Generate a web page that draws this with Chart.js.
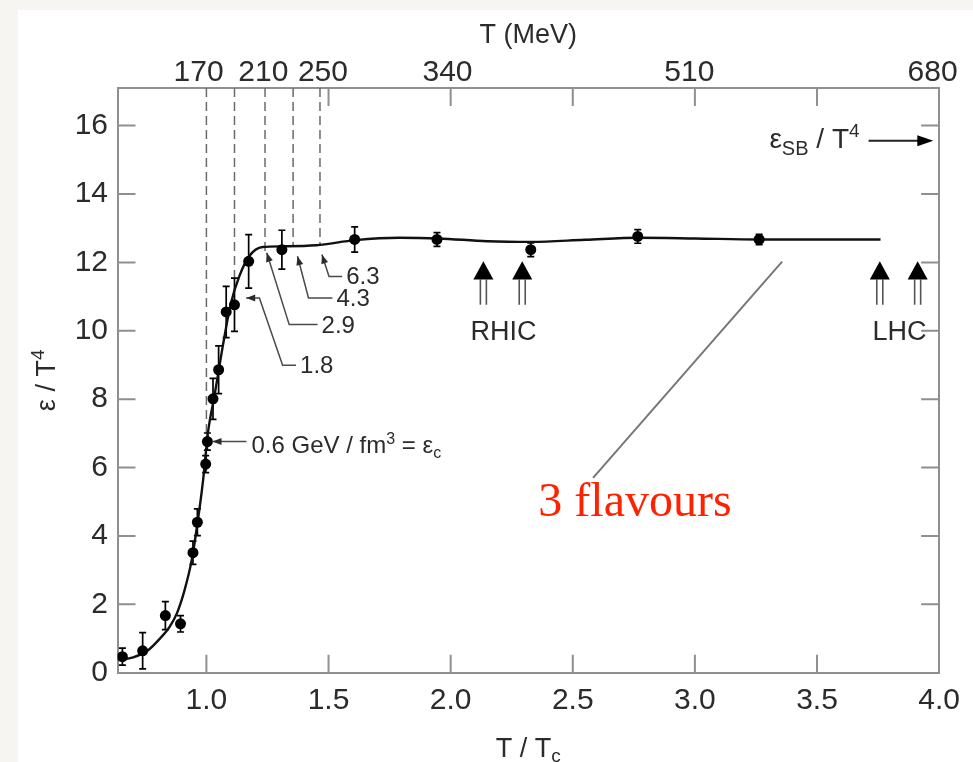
<!DOCTYPE html>
<html>
<head>
<meta charset="utf-8">
<script src="https://cdn.jsdelivr.net/npm/chart.js@4.4.0/dist/chart.umd.min.js"></script>
<style>
  html, body { margin: 0; padding: 0; background: #f6f5f2; }
  canvas { display: block; }
</style>
</head>
<body>
<canvas id="chart" width="973" height="762"></canvas>
<script>
// lattice points: T/Tc, eps/T^4 and the error half-length
var tTc    = [0.656, 0.739, 0.832, 0.894, 0.945, 0.963, 0.997, 1.004, 1.027, 1.050, 1.081, 1.115, 1.173, 1.309, 1.607, 1.944, 2.328, 2.766, 3.263];
var epsT4  = [0.47, 0.64, 1.67, 1.43, 3.51, 4.40, 6.10, 6.76, 8.01, 8.86, 10.55, 10.76, 12.03, 12.37, 12.67, 12.67, 12.37, 12.76, 12.67];
var epsErr = [0.25, 0.53, 0.41, 0.24, 0.34, 0.39, 0.25, 0.25, 0.60, 0.70, 0.75, 0.78, 0.78, 0.57, 0.37, 0.20, 0.20, 0.20, 0.15];

// the fitted curve
var curveX = [0.64, 0.70, 0.76, 0.81, 0.85, 0.88, 0.91, 0.94, 0.965, 0.986, 1.006, 1.033, 1.067, 1.10, 1.135, 1.175, 1.23, 1.31, 1.45, 1.61, 1.79, 1.95, 2.15, 2.33, 2.55, 2.77, 3.0, 3.26, 3.5, 3.76];
var curveY = [0.37, 0.45, 0.65, 1.0, 1.35, 1.75, 2.4, 3.3, 4.45, 5.6, 7.0, 8.1, 9.55, 10.8, 11.6, 12.18, 12.45, 12.47, 12.5, 12.65, 12.72, 12.7, 12.62, 12.6, 12.66, 12.72, 12.7, 12.67, 12.67, 12.67];

// axes
var xMin = 0.636, xMax = 4.0;
var yMin = 0, yMax = 17.1;
var xTicks = [1.0, 1.5, 2.0, 2.5, 3.0, 3.5, 4.0];
var yTicks = [0, 2, 4, 6, 8, 10, 12, 14, 16];
var topLabels = ['170', '210', '250', '340', '510', '680'];
var topLabelAt = [0.968, 1.233, 1.477, 1.987, 2.977, 3.973];
var topTickMarks = [1.5, 2.0, 2.5, 3.0, 3.5];

// dashed lines (energy density marks) and their labels
var dashX = [1.0, 1.115, 1.24, 1.355, 1.465];
var dashBottom = [5.9, 11.5, 12.3, 12.45, 12.5];
var notes = [
  { text: '6.3', pts: [[1.473, 12.23], [1.502, 11.59], [1.556, 11.59]] },
  { text: '4.3', pts: [[1.373, 12.18], [1.418, 10.96], [1.516, 10.96]] },
  { text: '2.9', pts: [[1.247, 12.28], [1.339, 10.18], [1.455, 10.18]] },
  { text: '1.8', pts: [[1.163, 10.96], [1.217, 10.96], [1.312, 8.99], [1.367, 8.99]] }
];
var ecNote = { pts: [[1.025, 6.76], [1.164, 6.76]] };

var rhicX = [2.134, 2.293];
var lhcX = [3.757, 3.912];
var beamTip = 12.03, beamHead = 11.5, beamEnd = 10.76, beamLabelY = 9.74;
var rhicLabelX = 2.216, lhcLabelX = 3.838;

var sbY = 15.56, sbFrom = 3.711, sbTo = 3.976;

var sans = '"Liberation Sans", Arial, Helvetica, sans-serif';
var serif = '"Liberation Serif", "Times New Roman", serif';
var textColor = '#2b2b2b';
var axisColor = '#8f8f8f';

function richText(ctx, parts, x, y, align) {
    var w = 0;
    parts.forEach(function(p) {
        ctx.font = p.size + 'px ' + (p.family || sans);
        p.w = ctx.measureText(p.t).width;
        w += p.w;
    });
    var cx = x;
    if (align === 'center') cx = x - w / 2;
    if (align === 'right') cx = x - w;
    ctx.textAlign = 'left';
    ctx.textBaseline = 'alphabetic';
    parts.forEach(function(p) {
        ctx.font = p.size + 'px ' + (p.family || sans);
        ctx.fillText(p.t, cx, y + (p.dy || 0));
        cx += p.w;
    });
}

function arrowHead(ctx, tx, ty, fx, fy, len, half) {
    var a = Math.atan2(ty - fy, tx - fx);
    ctx.beginPath();
    ctx.moveTo(tx, ty);
    ctx.lineTo(tx - len * Math.cos(a) + half * Math.sin(a), ty - len * Math.sin(a) - half * Math.cos(a));
    ctx.lineTo(tx - len * Math.cos(a) - half * Math.sin(a), ty - len * Math.sin(a) + half * Math.cos(a));
    ctx.closePath();
    ctx.fill();
}

var overlay = {
    id: 'overlay',
    beforeDraw: function(chart) {
        var ctx = chart.ctx;
        ctx.save();
        ctx.fillStyle = '#f6f5f2';
        ctx.fillRect(0, 0, chart.width, chart.height);
        ctx.fillStyle = '#ffffff';
        ctx.fillRect(18, 10, chart.width - 18, chart.height - 10);
        ctx.restore();
    },
    beforeDatasetsDraw: function(chart) {
        var ctx = chart.ctx, sx = chart.scales.x, sy = chart.scales.y;
        ctx.save();
        // dashed lines
        ctx.strokeStyle = '#6a6a6a';
        ctx.lineWidth = 1.5;
        ctx.setLineDash([9, 5]);
        for (var i = 0; i < dashX.length; i++) {
            var x = sx.getPixelForValue(dashX[i]);
            ctx.beginPath();
            ctx.moveTo(x, sy.getPixelForValue(yMax));
            ctx.lineTo(x, sy.getPixelForValue(dashBottom[i]));
            ctx.stroke();
        }
        ctx.setLineDash([]);
        // error bars
        ctx.strokeStyle = '#000';
        ctx.lineWidth = 1.7;
        for (var j = 0; j < tTc.length; j++) {
            var px = sx.getPixelForValue(tTc[j]);
            var y0 = sy.getPixelForValue(epsT4[j] - epsErr[j]);
            var y1 = sy.getPixelForValue(epsT4[j] + epsErr[j]);
            ctx.beginPath();
            ctx.moveTo(px, y0); ctx.lineTo(px, y1);
            ctx.moveTo(px - 3.5, y0); ctx.lineTo(px + 3.5, y0);
            ctx.moveTo(px - 3.5, y1); ctx.lineTo(px + 3.5, y1);
            ctx.stroke();
        }
        ctx.restore();
    },
    afterDraw: function(chart) {
        var ctx = chart.ctx, sx = chart.scales.x, sy = chart.scales.y;
        var a = chart.chartArea;
        ctx.save();
        // inward tick marks on all four sides
        ctx.strokeStyle = axisColor;
        ctx.lineWidth = 2;
        ctx.beginPath();
        yTicks.forEach(function(v) {
            if (v === yMin) return;
            var y = sy.getPixelForValue(v);
            ctx.moveTo(a.left, y); ctx.lineTo(a.left + 18, y);
            ctx.moveTo(a.right, y); ctx.lineTo(a.right - 18, y);
        });
        xTicks.forEach(function(v) {
            if (v === xMax) return;
            var x = sx.getPixelForValue(v);
            ctx.moveTo(x, a.bottom); ctx.lineTo(x, a.bottom - 18);
        });
        topTickMarks.forEach(function(v) {
            var x = sx.getPixelForValue(v);
            ctx.moveTo(x, a.top); ctx.lineTo(x, a.top + 18);
        });
        ctx.stroke();

        // axis titles
        ctx.fillStyle = textColor;
        richText(ctx, [{ t: 'T (MeV)', size: 27 }], (a.left + a.right) / 2, 43, 'center');
        richText(ctx, [{ t: 'T / T', size: 27 }, { t: 'c', size: 19, dy: 5 }], (a.left + a.right) / 2, 757, 'center');
        ctx.save();
        ctx.translate(55, (a.top + a.bottom) / 2);
        ctx.rotate(-Math.PI / 2);
        richText(ctx, [{ t: '\u03b5 / T', size: 27 }, { t: '4', size: 19, dy: -11 }], 0, 0, 'center');
        ctx.restore();

        // energy density labels
        ctx.strokeStyle = '#4a4a4a';
        ctx.fillStyle = '#2b2b2b';
        ctx.lineWidth = 1.5;
        notes.forEach(function(n) {
            var p = n.pts.map(function(q) { return [sx.getPixelForValue(q[0]), sy.getPixelForValue(q[1])]; });
            ctx.beginPath();
            ctx.moveTo(p[0][0], p[0][1]);
            for (var k = 1; k < p.length; k++) ctx.lineTo(p[k][0], p[k][1]);
            ctx.stroke();
            arrowHead(ctx, p[0][0], p[0][1], p[1][0], p[1][1], 9, 3.5);
            var last = p[p.length - 1];
            richText(ctx, [{ t: n.text, size: 24 }], last[0] + 4, last[1] + 8, 'left');
        });
        var e0 = [sx.getPixelForValue(ecNote.pts[0][0]), sy.getPixelForValue(ecNote.pts[0][1])];
        var e1 = [sx.getPixelForValue(ecNote.pts[1][0]), sy.getPixelForValue(ecNote.pts[1][1])];
        ctx.beginPath(); ctx.moveTo(e0[0], e0[1]); ctx.lineTo(e1[0], e1[1]); ctx.stroke();
        arrowHead(ctx, e0[0], e0[1], e1[0], e1[1], 9, 3.5);
        richText(ctx, [
            { t: '0.6 GeV / fm', size: 24 }, { t: '3', size: 16, dy: -9 },
            { t: ' = \u03b5', size: 24 }, { t: 'c', size: 16, dy: 5 }
        ], e1[0] + 5, e1[1] + 11, 'left');

        // RHIC and LHC arrows
        function beam(xs, label, lx) {
            xs.forEach(function(v) {
                var x = sx.getPixelForValue(v);
                var yt = sy.getPixelForValue(beamTip), yh = sy.getPixelForValue(beamHead), yb = sy.getPixelForValue(beamEnd);
                ctx.strokeStyle = '#555';
                ctx.lineWidth = 1.6;
                ctx.beginPath();
                ctx.moveTo(x - 3, yh); ctx.lineTo(x - 3, yb);
                ctx.moveTo(x + 3, yh); ctx.lineTo(x + 3, yb);
                ctx.stroke();
                ctx.fillStyle = '#000';
                ctx.beginPath();
                ctx.moveTo(x, yt); ctx.lineTo(x + 10, yh); ctx.lineTo(x - 10, yh);
                ctx.closePath(); ctx.fill();
            });
            ctx.fillStyle = textColor;
            richText(ctx, [{ t: label, size: 27 }], sx.getPixelForValue(lx), sy.getPixelForValue(beamLabelY), 'center');
        }
        beam(rhicX, 'RHIC', rhicLabelX);
        beam(lhcX, 'LHC', lhcLabelX);

        // Stefan-Boltzmann limit arrow
        var sb = sy.getPixelForValue(sbY), s0 = sx.getPixelForValue(sbFrom), s1 = sx.getPixelForValue(sbTo);
        ctx.strokeStyle = '#222';
        ctx.lineWidth = 2;
        ctx.beginPath(); ctx.moveTo(s0, sb); ctx.lineTo(s1 - 6, sb); ctx.stroke();
        ctx.fillStyle = '#000';
        arrowHead(ctx, s1, sb, s0, sb, 16, 5.5);
        ctx.fillStyle = textColor;
        richText(ctx, [
            { t: '\u03b5', size: 28 }, { t: 'SB', size: 20, dy: 7 },
            { t: ' / T', size: 28 }, { t: '4', size: 19, dy: -11 }
        ], s0 - 9, sb + 7, 'right');

        // red "3 flavours" label with its leader line
        ctx.strokeStyle = '#777';
        ctx.lineWidth = 2;
        ctx.beginPath();
        ctx.moveTo(sx.getPixelForValue(2.583), sy.getPixelForValue(5.70));
        ctx.lineTo(sx.getPixelForValue(3.357), sy.getPixelForValue(12.02));
        ctx.stroke();
        ctx.fillStyle = '#ff2200';
        richText(ctx, [{ t: '3 flavours', size: 48, family: serif }], sx.getPixelForValue(2.359), sy.getPixelForValue(4.58), 'left');
        ctx.restore();
    }
};

var curveData = curveX.map(function(x, i) { return { x: x, y: curveY[i] }; });
var pointData = tTc.map(function(x, i) { return { x: x, y: epsT4[i] }; });

var tickFont = { family: sans, size: 30, lineHeight: 1 };

var ctx = document.getElementById('chart').getContext('2d');
var chart = new Chart(ctx, {
    type: 'scatter',
    data: {
        datasets: [{
            type: 'line',
            data: curveData,
            borderColor: '#111',
            borderWidth: 2.4,
            pointRadius: 0,
            fill: false,
            tension: 0.4,
            cubicInterpolationMode: 'monotone',
            order: 2
        }, {
            data: pointData,
            backgroundColor: '#000',
            borderWidth: 0,
            pointRadius: 5.5,
            order: 1
        }]
    },
    options: {
        responsive: false,
        animation: false,
        layout: { padding: 0 },
        plugins: { legend: { display: false }, tooltip: { enabled: false } },
        scales: {
            x: {
                type: 'linear', position: 'bottom', min: xMin, max: xMax,
                afterBuildTicks: function(s) { s.ticks = xTicks.map(function(v) { return { value: v }; }); },
                afterFit: function(s) { s.height = 89.3; },
                ticks: { font: tickFont, color: textColor, padding: 13, maxRotation: 0, autoSkip: false,
                         callback: function(v) { return Number(v).toFixed(1); } },
                grid: { display: false, drawTicks: false },
                border: { color: axisColor, width: 2 }
            },
            x2: {
                type: 'linear', position: 'top', min: xMin, max: xMax,
                afterBuildTicks: function(s) { s.ticks = topLabelAt.map(function(v) { return { value: v }; }); },
                afterFit: function(s) { s.height = 88; },
                ticks: { font: tickFont, color: textColor, padding: 0, maxRotation: 0, autoSkip: false,
                         callback: function(v, i) { return topLabels[i]; } },
                grid: { display: false, drawTicks: false },
                border: { color: axisColor, width: 2 }
            },
            y: {
                type: 'linear', position: 'left', min: yMin, max: yMax,
                afterBuildTicks: function(s) { s.ticks = yTicks.map(function(v) { return { value: v }; }); },
                afterFit: function(s) { s.width = 117.5; },
                ticks: { font: tickFont, color: textColor, padding: 9.5, autoSkip: false },
                grid: { display: false, drawTicks: false },
                border: { color: axisColor, width: 2 }
            },
            y2: {
                type: 'linear', position: 'right', min: yMin, max: yMax,
                afterFit: function(s) { s.width = 27.3; },
                ticks: { display: false },
                grid: { display: false, drawTicks: false },
                border: { color: axisColor, width: 2 }
            }
        }
    },
    plugins: [overlay]
});
</script>
</body>
</html>
